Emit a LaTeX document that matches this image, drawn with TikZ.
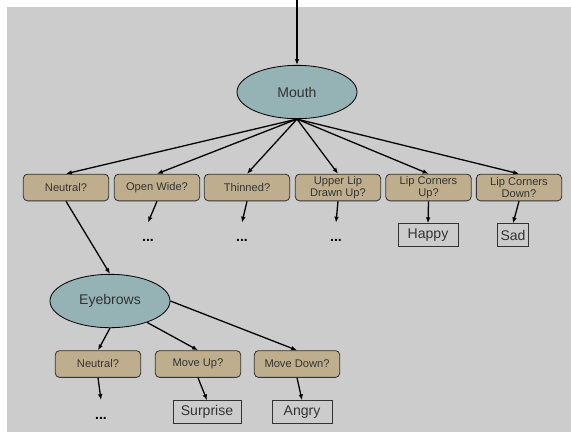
\documentclass[tikz,border=0pt]{standalone}
\usepackage{fontspec}
\setmainfont{Liberation Sans}
\usetikzlibrary{shapes.geometric,arrows.meta}

\definecolor{panelgray}{HTML}{CCCCCC}
\definecolor{partteal}{HTML}{95B3B5}
\definecolor{asktan}{HTML}{BEAE8D}
\definecolor{inkgray}{HTML}{333333}

\tikzset{
  part/.style={ellipse, draw=black, line width=0.7pt, fill=partteal, minimum width=3.6cm, minimum height=1.6cm, text=inkgray, font=\fontsize{12}{14}\selectfont},
  ask/.style={draw=inkgray, line width=0.7pt, fill=asktan, rounded corners=3.5pt, minimum width=2.56cm, minimum height=0.8cm, inner ysep=1pt, align=center, text=inkgray, font=\fontsize{9.5}{10.5}\selectfont},
  verdict/.style={draw=inkgray, line width=0.7pt, minimum height=0.68cm, inner xsep=2pt, text=inkgray, font=\fontsize{12}{14}\selectfont},
  more/.style={anchor=base, text height=13pt, text depth=0pt, inner sep=3pt, font=\bfseries\fontsize{12}{14}\selectfont},
  link/.style={-{Latex[length=5pt,width=4pt]}, line width=1.1pt},
}

\begin{document}
\begin{tikzpicture}[x=0.03cm, y=-0.03cm]
            % background panel
            \useasboundingbox (0,0) rectangle (571,434);
            \fill[white] (0,0) rectangle (571,434);
            \fill[panelgray] (7,7) rectangle (571,432);

            % mouth level
            \coordinate (top) at (297,0);
            \node[part] (mouth) at (297,92) {Mouth};
            \node[ask] (mneutral) at (66,187.5) {Neutral?};
            \node[ask] (mwide) at (157,187.5) {Open Wide?};
            \node[ask] (mthin) at (247,187.5) {Thinned?};
            \node[ask] (mupper) at (338,187.5) {Upper Lip\\Drawn Up?};
            \node[ask] (mcup) at (428.5,187.5) {Lip Corners\\Up?};
            \node[ask] (mcdown) at (519,187.5) {Lip Corners\\Down?};

            \node[more] (wdots) at (148,241.5) {...};
            \node[more] (tdots) at (242,241.5) {...};
            \node[more] (udots) at (336,241.5) {...};
            \node[verdict, minimum width=1.8cm] (happy) at (428,235) {Happy};
            \node[verdict, minimum width=0.92cm] (sad) at (513,235) {Sad};

            % eyebrows level
            \node[part] (brows) at (110,301) {Eyebrows};
            \node[ask] (bneutral) at (98,364) {Neutral?};
            \node[ask] (bup) at (198,364) {Move Up?};
            \node[ask] (bdown) at (297,364) {Move Down?};

            \node[more] (ndots) at (101,419) {...};
            \node[verdict, minimum width=2.04cm] (surprise) at (207,412) {Surprise};
            \node[verdict, minimum width=1.8cm] (angry) at (302,412) {Angry};

            \draw[link] (top) -- (mouth.north);
            \foreach \q in {mneutral,mwide,mthin,mupper,mcup,mcdown}{
                \draw[link] (mouth.south) -- (\q.north);
            }
            \foreach \q/\r in {mwide/wdots,mthin/tdots,mupper/udots,mcup/happy,mcdown/sad}{
                \draw[link] (\q.south) -- (\r.north);
            }
            \draw[link] (mneutral.south) -- (brows.north);

            \draw[link] (brows.south) -- (bneutral.north);
            \draw[link] (brows.-30) -- (bup.north);
            \draw[link] (brows.east) -- (bdown.north);
            \foreach \q/\r in {bneutral/ndots,bup/surprise,bdown/angry}{
                \draw[link] (\q.south) -- (\r.north);
            }
        \end{tikzpicture}
\end{document}
